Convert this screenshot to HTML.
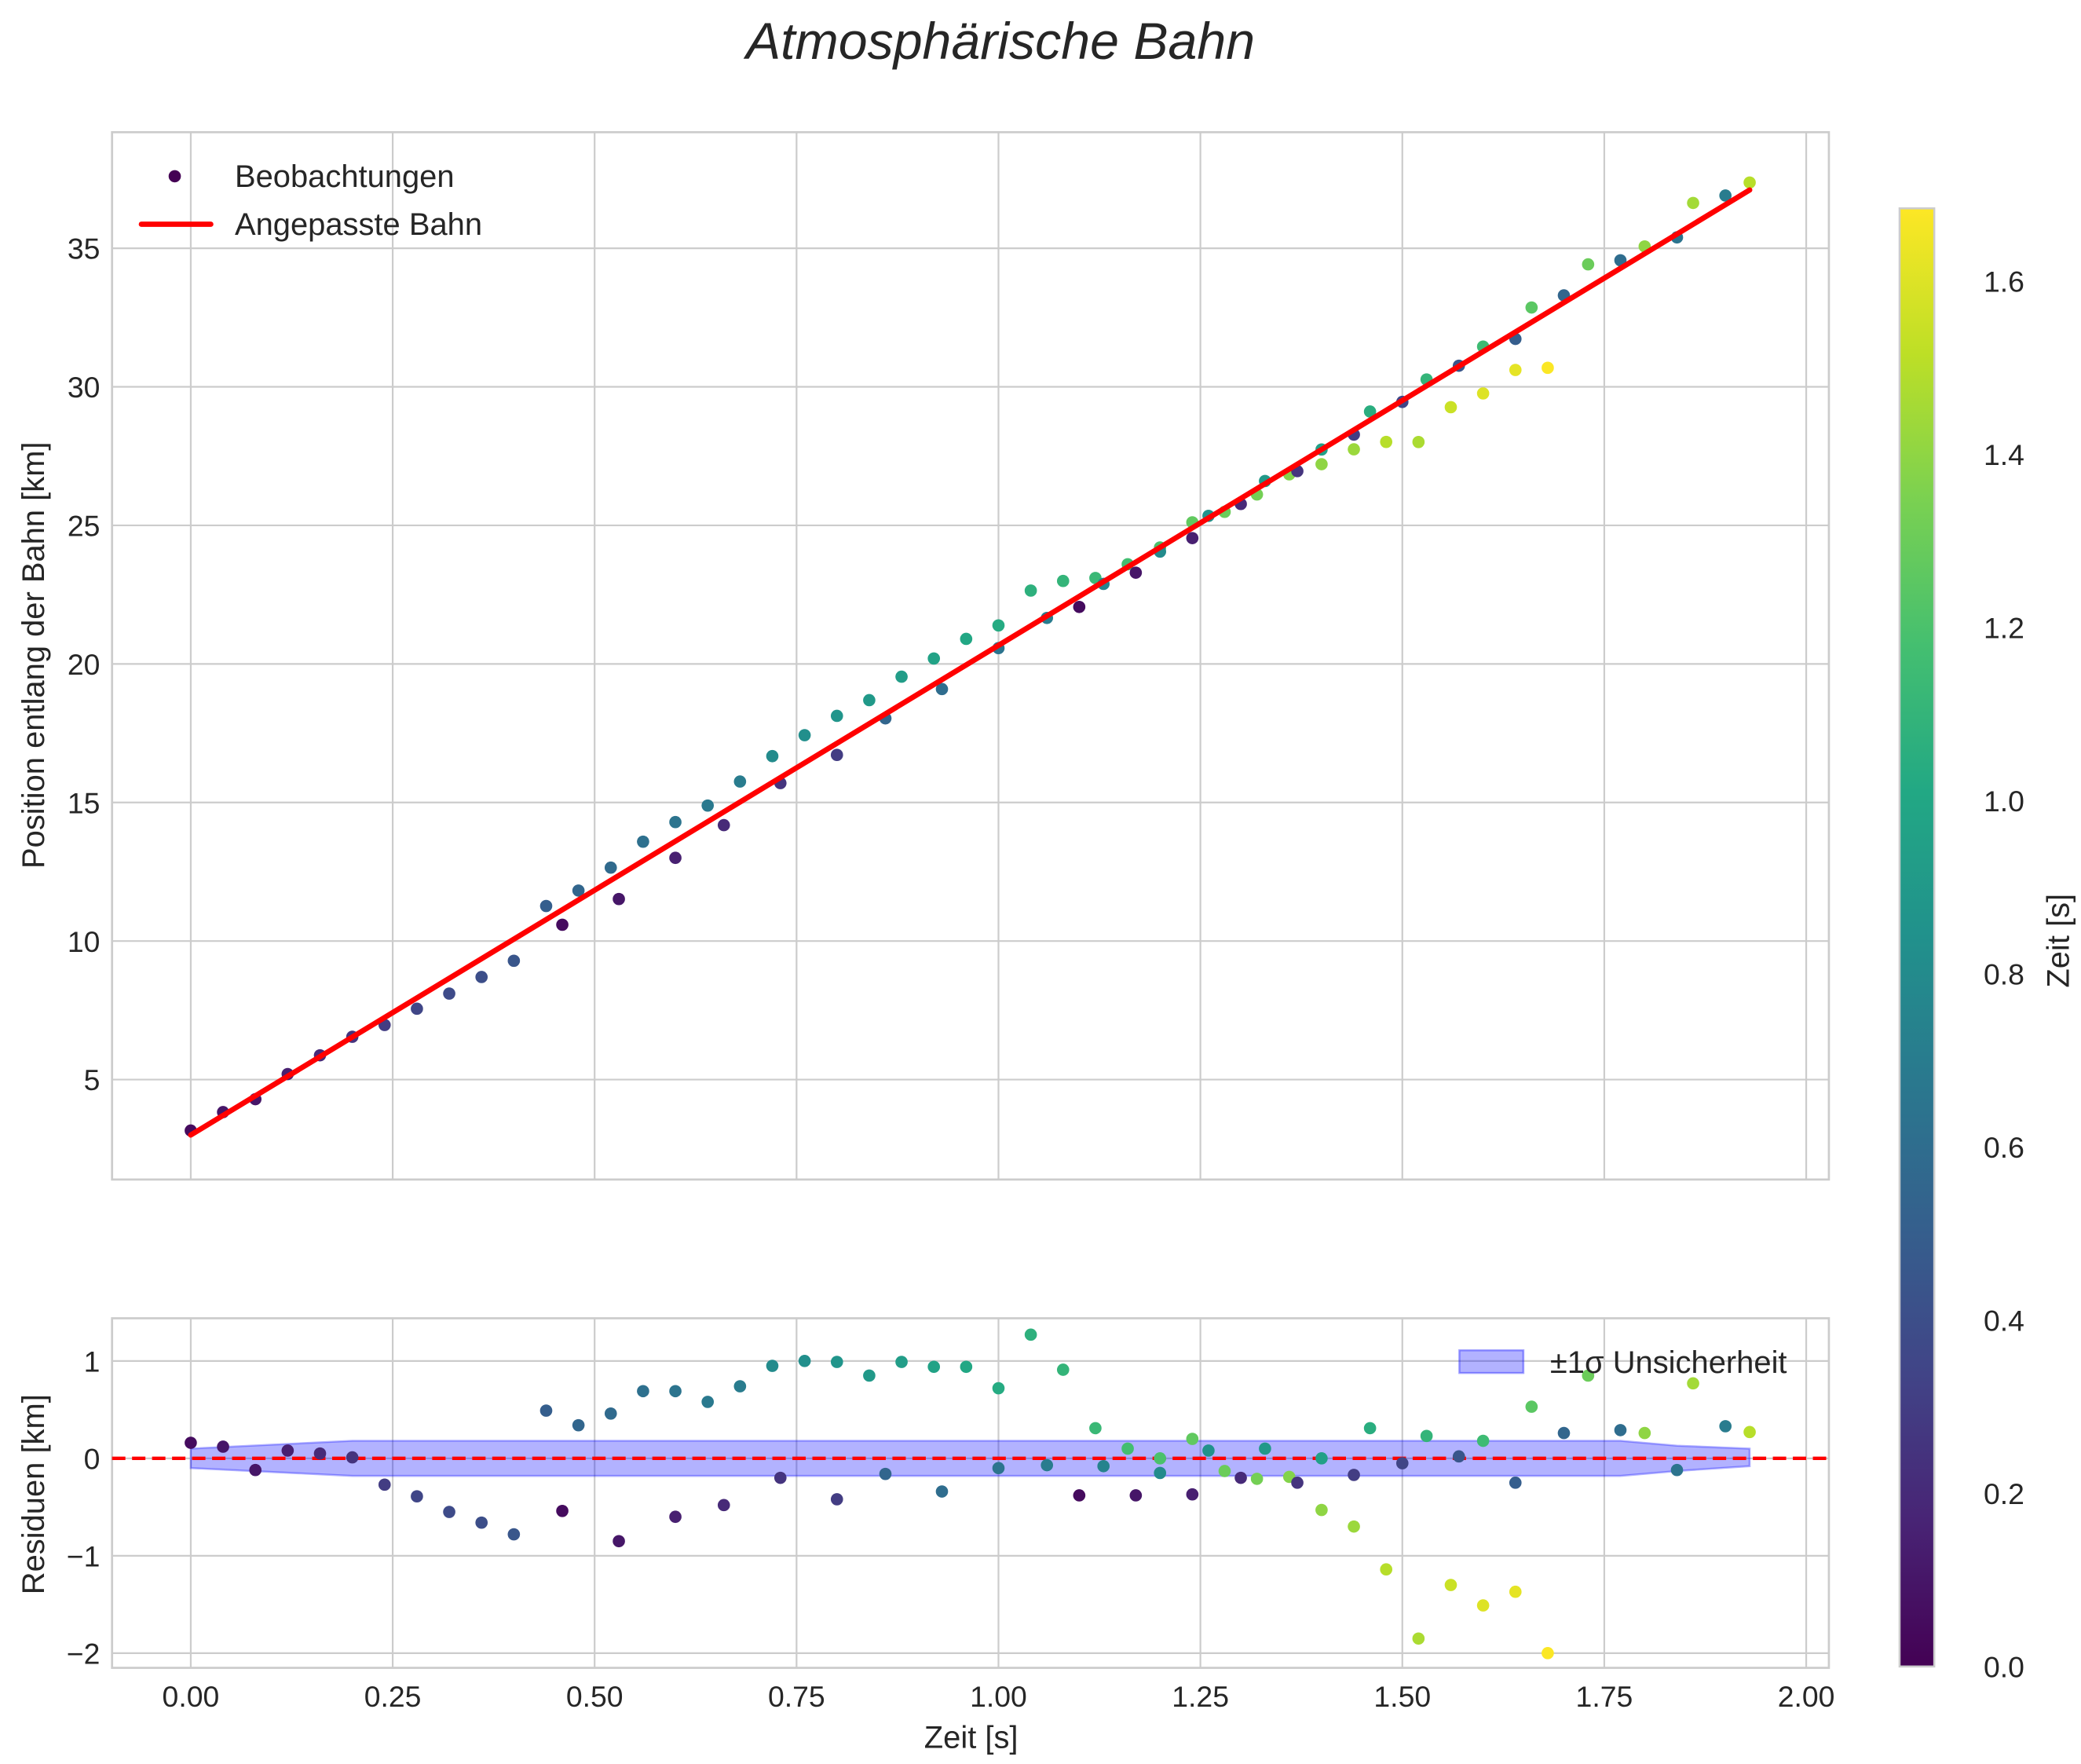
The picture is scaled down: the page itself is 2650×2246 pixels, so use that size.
<!DOCTYPE html>
<html><head><meta charset="utf-8"><style>
html,body{margin:0;padding:0;background:#fff}
svg{display:block}
text{font-family:"Liberation Sans",sans-serif;fill:#262626}
</style></head><body>
<svg id="fig" xmlns="http://www.w3.org/2000/svg" width="2650" height="2246" viewBox="0 0 1560 1322">
<defs>
<linearGradient id="vir" x1="0" y1="1" x2="0" y2="0">
<stop offset="0" stop-color="#440154"/><stop offset="0.1" stop-color="#482475"/><stop offset="0.2" stop-color="#414487"/><stop offset="0.3" stop-color="#355f8d"/><stop offset="0.4" stop-color="#2a788e"/><stop offset="0.5" stop-color="#21918c"/><stop offset="0.6" stop-color="#22a884"/><stop offset="0.7" stop-color="#44bf70"/><stop offset="0.8" stop-color="#7ad151"/><stop offset="0.9" stop-color="#bddf26"/><stop offset="1" stop-color="#fde725"/>
</linearGradient>
</defs>
<text x="750" y="44" font-size="39" font-style="italic" text-anchor="middle">Atmosphärische Bahn</text>
<g id="topPanel"></g>
<g id="botPanel"></g>
<g id="cbar"></g>
</svg>
<script>
const times=[0,0.04,0.08,0.12,0.16,0.20,0.24,0.28,0.32,0.36,0.40,0.44,0.46,0.48,0.52,0.53,0.56,0.60,0.60,0.64,0.66,0.68,0.72,0.73,0.76,0.80,0.80,0.84,0.86,0.88,0.92,0.93,0.96,1.00,1.00,1.04,1.06,1.08,1.10,1.12,1.13,1.16,1.17,1.20,1.20,1.24,1.24,1.26,1.28,1.30,1.32,1.33,1.36,1.37,1.40,1.40,1.44,1.44,1.46,1.48,1.50,1.52,1.53,1.56,1.57,1.60,1.60,1.64,1.64,1.66,1.68,1.70,1.73,1.77,1.80,1.84,1.86,1.90,1.93];
const residuals=[0.16,0.12,-0.12,0.08,0.05,0.01,-0.27,-0.39,-0.55,-0.66,-0.78,0.49,-0.54,0.34,0.46,-0.85,0.69,0.69,-0.60,0.58,-0.48,0.74,0.95,-0.2,1.0,0.99,-0.42,0.85,-0.16,0.99,0.94,-0.34,0.94,0.72,-0.1,1.27,-0.07,0.91,-0.38,0.31,-0.08,0.1,-0.38,0.0,-0.15,0.2,-0.37,0.08,-0.13,-0.2,-0.21,0.1,-0.19,-0.25,0.0,-0.53,-0.17,-0.7,0.31,-1.14,-0.05,-1.85,0.23,-1.3,0.02,-1.51,0.18,-0.25,-1.37,0.53,-2.0,0.26,0.85,0.29,0.26,-0.12,0.77,0.33,0.27];
const colorVals=[0.05,0.1,0.1,0.15,0.2,0.25,0.3,0.35,0.38,0.4,0.45,0.5,0.05,0.55,0.58,0.1,0.62,0.65,0.15,0.68,0.2,0.7,0.8,0.25,0.83,0.87,0.3,0.9,0.55,0.93,0.97,0.6,1.0,1.03,0.65,1.07,0.7,1.1,0.05,1.13,0.75,1.17,0.1,1.2,0.8,1.27,0.15,0.85,1.3,0.2,1.33,0.9,1.37,0.25,0.95,1.4,0.3,1.43,1.05,1.5,0.35,1.47,1.1,1.55,0.45,1.6,1.15,0.5,1.62,1.25,1.68,0.55,1.3,0.6,1.4,0.65,1.45,0.7,1.5];
const fitParams=[3.0,17.67];
const fitRange=[0,1.93];
const bandTimes=[0,0.2,1.77,1.84,1.93];
const bandUpper=[0.1,0.18,0.18,0.13,0.1];
const bandLower=[-0.1,-0.18,-0.18,-0.13,-0.08];
const xTicks=[0,0.25,0.5,0.75,1.0,1.25,1.5,1.75,2.0];
const xTickLabels=["0.00","0.25","0.50","0.75","1.00","1.25","1.50","1.75","2.00"];
const yTopTicks=[5,10,15,20,25,30,35];
const yBotTicks=[1,0,-1,-2];
const yBotLabels=["1","0","\u22121","\u22122"];
const cTicks=[0,0.2,0.4,0.6,0.8,1.0,1.2,1.4,1.6];
const cTickLabels=["0.0","0.2","0.4","0.6","0.8","1.0","1.2","1.4","1.6"];

const NS="http://www.w3.org/2000/svg";
function mk(parent,tag,attrs,txt){const e=document.createElementNS(NS,tag);for(const k in attrs)e.setAttribute(k,attrs[k]);if(txt!==undefined)e.textContent=txt;parent.appendChild(e);return e;}
const X0=84,X1=1371;
const TF=22, LF=23.5;
const xS=t=>143+(t-0)*605.5;
const T={top:99,bot:884,y:v=>186+(35-v)*20.77};
const B={top:988,bot:1250,y:v=>1093-v*73};
const cMin=0,cMax=1.684;
const cY=v=>1249-(v-cMin)*649;
const vir=["#440154","#482475","#414487","#355f8d","#2a788e","#21918c","#22a884","#44bf70","#7ad151","#bddf26","#fde725"];
function hx(h){return [1,3,5].map(i=>parseInt(h.substr(i,2),16));}
function cmap(v){let f=Math.max(0,Math.min(1,(v-cMin)/(cMax-cMin)))*10;let i=Math.min(9,Math.floor(f));let a=hx(vir[i]),b=hx(vir[i+1]),u=f-i;return "rgb("+a.map((c,k)=>Math.round(c+(b[k]-c)*u)).join(",")+")";}
const fit=t=>fitParams[0]+fitParams[1]*t;
const positions=times.map((t,i)=>fit(t)+residuals[i]);

// top panel
const topG=document.getElementById('topPanel');
xTicks.forEach(t=>{const g=mk(topG,'line',{x1:xS(t),x2:xS(t),y1:T.top,y2:T.bot,stroke:'#cccccc','stroke-width':1.3});

});
yTopTicks.forEach(v=>{const g=mk(topG,'line',{x1:X0,x2:X1,y1:T.y(v),y2:T.y(v),stroke:'#cccccc','stroke-width':1.3});


const l=mk(topG,'text',{x:75,y:T.y(v)+8,'font-size':TF,'text-anchor':'end'},String(v));

});
const fr=mk(topG,'rect',{x:X0,y:T.top,width:X1-X0,height:T.bot-T.top,fill:'none',stroke:'#cccccc','stroke-width':1.6});


times.forEach((t,i)=>{const c=mk(topG,'circle',{cx:xS(t),cy:T.y(positions[i]),r:4.6,fill:cmap(colorVals[i])});

});
const fl=mk(topG,'line',{x1:xS(fitRange[0]),y1:T.y(fit(fitRange[0])),x2:xS(fitRange[1]),y2:T.y(fit(fitRange[1])),stroke:'#ff0000','stroke-width':4,'stroke-linecap':'round'});


const yl=mk(topG,'text',{x:0,y:0,'font-size':LF,'text-anchor':'middle',transform:'translate(33,491) rotate(-90)'},'Position entlang der Bahn [km]');


const lg=mk(topG,'g',{});


const lm=mk(lg,'circle',{cx:131,cy:132,r:4.6,fill:'#440154'});


const lt1=mk(lg,'text',{x:176,y:140,'font-size':LF},'Beobachtungen');


const ll=mk(lg,'line',{x1:106,x2:158,y1:168,y2:168,stroke:'#ff0000','stroke-width':4,'stroke-linecap':'round'});


const lt2=mk(lg,'text',{x:176,y:176,'font-size':LF},'Angepasste Bahn');



// bottom panel
const botG=document.getElementById('botPanel');
xTicks.forEach((t,i)=>{const g=mk(botG,'line',{x1:xS(t),x2:xS(t),y1:B.top,y2:B.bot,stroke:'#cccccc','stroke-width':1.3});


const l=mk(botG,'text',{x:xS(t),y:1279,'font-size':TF,'text-anchor':'middle'},xTickLabels[i]);

});
yBotTicks.forEach((v,i)=>{const g=mk(botG,'line',{x1:X0,x2:X1,y1:B.y(v),y2:B.y(v),stroke:'#cccccc','stroke-width':1.3});


const l=mk(botG,'text',{x:75,y:B.y(v)+8,'font-size':TF,'text-anchor':'end'},yBotLabels[i]);

});
const bfr=mk(botG,'rect',{x:X0,y:B.top,width:X1-X0,height:B.bot-B.top,fill:'none',stroke:'#cccccc','stroke-width':1.6});


let d='M'+bandTimes.map((t,i)=>xS(t)+','+B.y(bandUpper[i])).join(' L');
for(let i=bandTimes.length-1;i>=0;i--)d+=' L'+xS(bandTimes[i])+','+B.y(bandLower[i]);
d+=' Z';
const band=mk(botG,'path',{d:d,fill:'rgba(0,0,255,0.3)',stroke:'rgba(0,0,255,0.3)','stroke-width':1.5});


const zl=mk(botG,'line',{x1:X0,x2:X1,y1:B.y(0),y2:B.y(0),stroke:'#ff0000','stroke-width':2.6,'stroke-dasharray':'10,5'});


times.forEach((t,i)=>{const c=mk(botG,'circle',{cx:xS(t),cy:B.y(residuals[i]),r:4.6,fill:cmap(colorVals[i])});

});
const byl=mk(botG,'text',{x:0,y:0,'font-size':LF,'text-anchor':'middle',transform:'translate(33,1120) rotate(-90)'},'Residuen [km]');


const xl=mk(botG,'text',{x:728,y:1310,'font-size':LF,'text-anchor':'middle'},'Zeit [s]');


const blg=mk(botG,'g',{});


const bp=mk(blg,'rect',{x:1094,y:1012,width:48,height:17,fill:'rgba(0,0,255,0.3)',stroke:'rgba(0,0,255,0.35)','stroke-width':1.5});


const bt=mk(blg,'text',{x:1162,y:1029,'font-size':LF},'±1σ Unsicherheit');



// colorbar
const cb=document.getElementById('cbar');
const cr=mk(cb,'rect',{x:1424,y:cY(cMax),width:26,height:cY(cMin)-cY(cMax),fill:'url(#vir)',stroke:'#cccccc','stroke-width':1.5});


cTicks.forEach((v,i)=>{const l=mk(cb,'text',{x:1487,y:cY(v)+8,'font-size':TF},cTickLabels[i]);

});
const cl=mk(cb,'text',{x:0,y:0,'font-size':LF,'text-anchor':'middle',transform:'translate(1551,705) rotate(-90)'},'Zeit [s]');


</script>
</body></html>
